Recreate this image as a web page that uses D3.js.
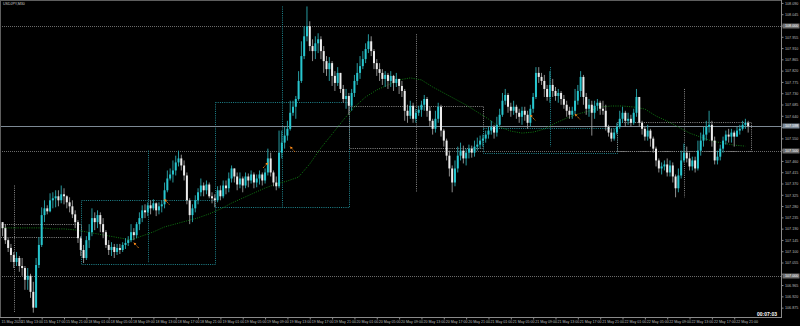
<!DOCTYPE html>
<html><head><meta charset="utf-8">
<script src="https://cdn.jsdelivr.net/npm/d3@7"></script>
<style>
html,body{margin:0;padding:0;background:#000;overflow:hidden}
svg{display:block}
text{font-family:"Liberation Sans",Arial,sans-serif}
</style></head><body>
<svg id="c" width="800" height="326"></svg>
<script>
// ---------------- DATA (USDJPY M30, 15 May 2020 09:00 .. 22 May 2020 23:30) ----------------
const symbolTitle = "USDJPY,M30";
const countdown = "00:07:03";
const firstOpen = 107.196;
const closes = [
107.200,107.216,
107.192,107.144,107.113,107.085,107.057,107.073,107.041,107.033,106.986,107.002,106.938,106.875,107.045,107.125,107.244,107.271,
107.259,
107.303,107.311,107.319,107.303,107.327,107.319,107.295,107.279,107.247,107.216,
107.152,107.105,107.073,107.144,107.176,107.232,107.216,107.244,107.208,107.176,
107.125,107.105,107.117,107.097,107.113,107.105,107.125,107.133,107.144,107.176,
107.164,107.208,107.232,107.263,107.255,107.283,107.271,107.291,107.263,107.279,
107.287,107.343,107.390,
107.406,
107.422,107.454,107.470,107.442,107.402,107.303,107.244,107.271,107.303,107.335,
107.362,107.343,107.366,107.319,107.311,107.303,107.343,107.319,107.362,107.351,
107.390,107.430,107.398,107.366,107.390,107.362,107.398,107.382,107.406,107.374,
107.390,107.406,107.382,107.414,107.470,107.414,107.374,107.359,107.493,107.533,
107.561,107.588,107.652,
107.676,
107.707,107.779,107.878,107.957,107.997,107.918,107.898,107.929,107.945,107.898,
107.858,107.826,107.850,107.799,107.771,107.811,107.747,107.707,107.719,107.680,
107.731,107.779,107.811,107.838,107.866,107.906,107.937,107.898,107.850,107.826,
107.811,107.787,107.803,107.779,107.799,107.771,107.787,107.759,107.739,107.660,
107.640,107.680,107.628,107.652,
107.664,
107.684,107.707,107.660,107.620,107.588,107.628,107.676,107.581,107.541,107.481,
107.430,107.374,107.430,107.481,107.501,107.470,107.493,107.509,107.493,107.517,
107.525,107.541,107.549,107.565,107.581,107.596,107.573,107.604,107.644,107.700,
107.723,107.676,107.660,107.676,107.652,107.636,107.660,107.644,107.612,107.668,
107.715,107.811,107.795,
107.779,
107.747,107.715,107.763,107.739,107.719,107.731,107.707,107.684,107.660,107.644,
107.660,107.700,107.739,107.795,107.715,107.668,107.684,107.652,107.680,107.692,
107.668,107.660,107.596,107.573,107.549,107.573,107.596,107.628,107.652,107.620,
107.628,107.612,107.652,107.715,107.612,107.588,107.557,107.581,107.549,107.509,
107.462,107.430,107.438,
107.446,
107.414,107.442,107.398,107.351,107.402,107.462,107.493,107.470,107.438,107.462,
107.430,107.501,107.541,107.565,107.596,107.604,107.541,107.462,107.477,107.509,
107.541,107.565,107.557,107.573,107.557,107.581,107.588,107.604,107.612,107.598
];
const highs = [
107.216,107.232,
107.216,107.208,107.152,107.129,107.097,107.097,107.081,107.073,107.041,107.033,107.010,106.978,107.073,107.156,107.275,107.303,
107.283,
107.331,107.335,107.343,107.343,107.362,107.351,107.323,107.315,107.303,107.263,
107.224,107.160,107.125,107.160,107.208,107.271,107.255,107.263,107.255,107.232,
107.184,107.144,107.136,107.129,107.129,107.129,107.136,107.152,107.160,107.208,
107.192,107.216,107.255,107.283,107.287,107.295,107.303,107.307,107.295,107.295,
107.303,107.374,107.422,
107.430,
107.462,107.481,107.501,107.485,107.462,107.414,107.311,107.287,107.323,107.351,
107.390,107.374,107.382,107.374,107.335,107.327,107.359,107.362,107.382,107.382,
107.414,107.442,107.430,107.414,107.414,107.398,107.414,107.410,107.422,107.414,
107.406,107.422,107.414,107.430,107.509,107.493,107.422,107.398,107.581,107.581,
107.596,107.620,107.700,
107.700,
107.719,107.818,107.937,107.997,108.076,108.017,107.945,107.957,107.969,107.957,
107.918,107.878,107.874,107.858,107.818,107.834,107.811,107.763,107.747,107.731,
107.747,107.803,107.850,107.878,107.898,107.929,107.965,107.957,107.906,107.866,
107.850,107.826,107.818,107.811,107.818,107.803,107.811,107.787,107.779,107.747,
107.684,107.700,107.692,107.668,
107.680,
107.700,107.723,107.715,107.676,107.628,107.660,107.692,107.684,107.588,107.549,
107.501,107.442,107.462,107.517,107.533,107.521,107.509,107.525,107.521,107.541,
107.553,107.561,107.565,107.581,107.596,107.620,107.604,107.636,107.668,107.731,
107.747,107.731,107.692,107.700,107.684,107.668,107.676,107.676,107.660,107.684,
107.731,107.834,107.834,
107.811,
107.803,107.763,107.818,107.787,107.755,107.747,107.739,107.723,107.700,107.676,
107.676,107.747,107.763,107.818,107.803,107.731,107.707,107.700,107.700,107.707,
107.700,107.700,107.684,107.604,107.588,107.588,107.612,107.660,107.676,107.660,
107.652,107.644,107.668,107.747,107.715,107.620,107.596,107.604,107.588,107.557,
107.517,107.470,107.454,
107.462,
107.470,107.462,107.454,107.406,107.430,107.501,107.529,107.517,107.493,107.477,
107.477,107.541,107.573,107.596,107.620,107.660,107.620,107.557,107.501,107.525,
107.557,107.581,107.588,107.588,107.581,107.596,107.604,107.620,107.628,107.620
];
const lows = [
107.184,107.192,
107.160,107.129,107.097,107.057,107.033,107.041,107.018,107.002,106.946,106.946,106.914,106.855,106.899,107.033,107.117,107.216,
107.247,
107.255,107.271,107.275,107.279,107.291,107.287,107.271,107.255,107.232,107.192,
107.133,107.081,107.053,107.065,107.113,107.160,107.184,107.192,107.176,107.152,
107.113,107.085,107.081,107.073,107.085,107.089,107.097,107.109,107.121,107.136,
107.144,107.152,107.184,107.216,107.232,107.240,107.247,107.263,107.240,107.247,
107.255,107.271,107.335,
107.382,
107.374,107.402,107.438,107.422,107.382,107.287,107.208,107.216,107.255,107.287,
107.319,107.319,107.327,107.311,107.291,107.275,107.295,107.303,107.311,107.327,
107.335,107.374,107.374,107.343,107.351,107.335,107.351,107.355,107.370,107.351,
107.355,107.366,107.362,107.370,107.402,107.398,107.359,107.343,107.351,107.470,
107.509,107.541,107.581,
107.640,
107.628,107.700,107.771,107.866,107.937,107.898,107.858,107.866,107.890,107.866,
107.811,107.799,107.779,107.759,107.739,107.759,107.731,107.692,107.668,107.644,
107.660,107.715,107.763,107.787,107.826,107.850,107.890,107.878,107.826,107.799,
107.779,107.763,107.755,107.747,107.755,107.739,107.755,107.727,107.715,107.620,
107.612,107.628,107.612,107.612,
107.640,
107.636,107.660,107.636,107.596,107.565,107.573,107.612,107.557,107.517,107.462,
107.398,107.335,107.359,107.414,107.462,107.450,107.442,107.470,107.473,107.477,
107.501,107.509,107.517,107.533,107.549,107.565,107.549,107.557,107.596,107.636,
107.684,107.652,107.636,107.644,107.628,107.612,107.604,107.620,107.588,107.596,
107.652,107.707,107.771,
107.763,
107.715,107.700,107.692,107.715,107.700,107.692,107.684,107.668,107.636,107.628,
107.628,107.644,107.684,107.715,107.684,107.644,107.636,107.561,107.628,107.660,
107.644,107.644,107.581,107.557,107.537,107.541,107.565,107.588,107.612,107.596,
107.604,107.596,107.604,107.636,107.596,107.565,107.541,107.541,107.517,107.493,
107.438,107.414,107.406,
107.422,
107.398,107.398,107.374,107.315,107.335,107.390,107.454,107.454,107.422,107.422,
107.414,107.422,107.481,107.517,107.541,107.573,107.517,107.446,107.446,107.462,
107.493,107.525,107.533,107.533,107.517,107.557,107.565,107.581,107.588,107.573
];
// moving average, one reading every 4 bars (bar 0, 4, 8, ...)
const maStep = 4;
const maValues = [
107.193,107.193,107.193,107.193,107.193,107.189,107.189,107.185,107.177,107.169,
107.161,107.153,107.145,107.161,107.177,107.197,107.209,107.221,107.233,107.249,
107.268,107.292,107.312,107.332,107.352,107.368,107.380,107.396,107.448,107.512,
107.567,107.623,107.675,107.715,107.743,107.763,107.783,107.791,107.783,107.755,
107.731,107.707,107.683,107.655,107.627,107.595,107.579,107.571,107.575,107.587,
107.611,107.631,107.647,107.659,107.675,107.679,107.679,107.675,107.667,107.639,
107.619,107.595,107.571,107.555,107.539,107.531,107.523,107.519
];
const timeTickStep = 8;
const timeTickLabels = [
"15 May 2020","15 May 13:00","15 May 17:00","15 May 21:00",
"18 May 01:00","18 May 05:00","18 May 09:00","18 May 13:00","18 May 17:00","18 May 21:00",
"19 May 01:00","19 May 05:00","19 May 09:00","19 May 13:00","19 May 17:00","19 May 21:00",
"20 May 01:00","20 May 05:00","20 May 09:00","20 May 13:00","20 May 17:00","20 May 21:00",
"21 May 01:00","21 May 05:00","21 May 09:00","21 May 13:00","21 May 17:00","21 May 21:00",
"22 May 01:00","22 May 05:00","22 May 09:00","22 May 13:00","22 May 17:00","22 May 21:00"
];
const priceTicks = [106.875,106.920,106.965,107.010,107.055,107.100,107.145,107.190,107.235,107.280,
107.325,107.370,107.415,107.460,107.505,107.550,107.595,107.640,107.685,107.730,
107.775,107.820,107.865,107.910,107.955,108.000,108.045,108.090];
const levels = [108.000, 107.500, 107.000];
const bid = 107.598;
// daily boxes
const dayStart = [-18, 30, 78, 126, 174, 222];
const dayEnd   = [30, 78, 126, 174, 222, 270];
const boxHigh  = [107.209, 107.304, 107.695, 107.679, 107.591, 107.615];
const boxLow   = [107.157, 107.049, 107.276, 107.512, 107.492, 107.500];
const boxKind  = ["gray", "teal", "teal", "gray", "teal", "gray"];
// trade arrows
const arrowBars   = [49, 60, 97, 105, 191, 207];
const arrowPrices = [107.134, 107.307, 107.453, 107.517, 107.643, 107.647];
const arrowDir    = [-1, -1, 1, -1, -1, -1];

// ---------------- DRAWING ----------------
const PR = 781, PB = 317;
const svg = d3.select("#c");
svg.append("rect").attr("width", 800).attr("height", 326).attr("fill", "#000");
const x = d3.scaleLinear().domain([0, 270]).range([-3, -3 + 270 * 2.7925]);
const y = d3.scaleLinear().domain([107.0, 108.0]).range([276.3, 25.5]);
const kindColor = {gray: "#8a8a8a", teal: "#1f8790"};

svg.append("defs").append("clipPath").attr("id", "plot")
  .append("rect").attr("x", 1).attr("y", 1).attr("width", PR - 1).attr("height", PB - 1);
const g = svg.append("g").attr("clip-path", "url(#plot)");

// round-number levels (dotted, full width)
g.selectAll("line.lvl").data(levels).join("line").attr("class", "lvl")
  .attr("x1", 0).attr("x2", PR).attr("y1", d => Math.round(y(d)) + 0.5).attr("y2", d => Math.round(y(d)) + 0.5)
  .attr("stroke", "#6a6a6a").attr("stroke-dasharray", "1,1");

// daily boxes
const days = d3.range(dayStart.length);
g.selectAll("rect.box").data(days).join("rect").attr("class", "box")
  .attr("x", i => Math.round(x(dayStart[i])) + 0.5)
  .attr("width", i => Math.round(x(dayEnd[i])) - Math.round(x(dayStart[i])))
  .attr("y", i => Math.round(y(boxHigh[i])) + 0.5)
  .attr("height", i => Math.round(y(boxLow[i])) - Math.round(y(boxHigh[i])))
  .attr("fill", "none").attr("stroke", i => kindColor[boxKind[i]]).attr("stroke-dasharray", "1,1.2");

// daily high-low range marker at mid-day
g.selectAll("line.dr").data(days).join("line").attr("class", "dr")
  .each(function(i) {
    const s = Math.max(0, dayStart[i]), e = Math.min(closes.length, dayEnd[i]);
    const hi = d3.max(highs.slice(s, e)), lo = d3.min(lows.slice(s, e));
    const xm = Math.round(x(dayStart[i] + 24)) + 0.5;
    d3.select(this).attr("x1", xm).attr("x2", xm).attr("y1", y(hi)).attr("y2", y(lo));
  })
  .attr("stroke", i => kindColor[boxKind[i]]).attr("stroke-dasharray", "1,1.2");

// bid line
g.append("line").attr("x1", 0).attr("x2", PR)
  .attr("y1", Math.round(y(bid)) + 0.5).attr("y2", Math.round(y(bid)) + 0.5)
  .attr("stroke", "#7d8994").attr("stroke-width", 1);

// moving average
const maLine = d3.line().x((d, i) => x(i * maStep)).y(d => y(d));
g.append("path").datum(maValues).attr("d", maLine).attr("fill", "none")
  .attr("stroke", "#0f7a12").attr("stroke-width", 1).attr("stroke-dasharray", "1,1.3");

// candles
const bars = closes.map((c, i) => ({i, o: i === 0 ? firstOpen : closes[i - 1], c, h: highs[i], l: lows[i]}));
const cg = g.append("g");
cg.selectAll("line.wick").data(bars).join("line").attr("class", "wick")
  .attr("x1", d => x(d.i)).attr("x2", d => x(d.i))
  .attr("y1", d => y(Math.max(d.h, d.o, d.c))).attr("y2", d => y(Math.min(d.l, d.o, d.c)))
  .attr("stroke", d => d.c >= d.o ? "#2aaab0" : "#9c9c9c").attr("stroke-width", 0.9);
cg.selectAll("rect.body").data(bars).join("rect").attr("class", "body")
  .attr("x", d => x(d.i) - 1).attr("width", 2)
  .attr("y", d => y(Math.max(d.o, d.c)))
  .attr("height", d => Math.max(0.8, Math.abs(y(d.o) - y(d.c))))
  .attr("fill", d => d.c >= d.o ? "#27c6cf" : "#ececec");

// trade arrows
const ag = g.append("g");
arrowBars.forEach((b, k) => {
  const hx = x(b), hy = y(arrowPrices[k]), dir = arrowDir[k];
  const tx = hx - dir * 5, ty = hy + 5.5;
  ag.append("line").attr("x1", hx).attr("y1", hy).attr("x2", tx).attr("y2", ty)
    .attr("stroke", "#e07a10").attr("stroke-width", 1).attr("stroke-dasharray", "1.2,0.8");
  const ang = Math.atan2(hy - ty, hx - tx);
  const p = (a, r) => [hx - r * Math.cos(ang + a), hy - r * Math.sin(ang + a)];
  ag.append("path").attr("d", "M" + [hx, hy] + "L" + p(0.6, 2.6) + "L" + p(-0.6, 2.6) + "Z").attr("fill", "#ff8c1a");
});

// frame
svg.append("line").attr("x1", 0).attr("x2", PR).attr("y1", 0.5).attr("y2", 0.5).attr("stroke", "#5e5e5e");
svg.append("line").attr("x1", 0.5).attr("x2", 0.5).attr("y1", 0).attr("y2", PB).attr("stroke", "#5e5e5e");
svg.append("line").attr("x1", PR + 0.5).attr("x2", PR + 0.5).attr("y1", 0).attr("y2", PB + 1).attr("stroke", "#8a8a8a");
svg.append("line").attr("x1", 0).attr("x2", PR + 1).attr("y1", PB + 0.5).attr("y2", PB + 0.5).attr("stroke", "#8a8a8a");

// line tags (price labels for the level lines and bid)
const tags = levels.map(v => ({v, bg: "#6c6c6c"})).concat([{v: bid, bg: "#7d8a97"}]);
const tagY = tags.map(t => Math.round(y(t.v)));

// price axis (labels hidden where a line tag sits on them)
const yAxis = d3.axisRight(y).tickValues(priceTicks).tickFormat(d3.format(".3f")).tickSize(2).tickPadding(2);
const gy = svg.append("g").attr("transform", `translate(${PR + 0.5},0)`).call(yAxis);
gy.select(".domain").remove();
gy.selectAll(".tick line").attr("stroke", "#8a8a8a");
gy.selectAll(".tick text").attr("fill", "#bdbdbd").attr("font-size", 3.7).attr("x", 3.5).attr("dy", "0.36em")
  .attr("display", d => tagY.some(ty => Math.abs(ty - y(d)) < 5.5) ? "none" : null);

// time axis
const tickBars = timeTickLabels.map((_, k) => k * timeTickStep);
const xAxis = d3.axisBottom(x).tickValues(tickBars).tickFormat((d, k) => timeTickLabels[k]).tickSize(2).tickPadding(0);
const gx = svg.append("g").attr("transform", `translate(0,${PB + 0.5})`).call(xAxis);
gx.select(".domain").remove();
gx.selectAll(".tick line").attr("stroke", "#8a8a8a");
gx.selectAll(".tick text").attr("fill", "#bdbdbd").attr("font-size", 3.6)
  .attr("text-anchor", "start").attr("y", 5).attr("dy", 0).attr("x", (d, k) => k === 0 ? 4 : 1.5);

// tags drawn on top
const tg = svg.append("g");
tags.forEach((t, k) => {
  const yy = tagY[k];
  tg.append("rect").attr("x", PR + 1.5).attr("y", yy - 2.5).attr("width", 17).attr("height", 5).attr("fill", t.bg);
  tg.append("text").attr("x", PR + 4).attr("y", yy + 1.4).attr("fill", "#ffffff").attr("font-size", 3.7).text(d3.format(".3f")(t.v));
});

// title + countdown
svg.append("text").attr("x", 3).attr("y", 4.6).attr("fill", "#cfcfcf").attr("font-size", 3.6).text(symbolTitle);
svg.append("text").attr("x", PR - 4).attr("y", 315.5).attr("text-anchor", "end").attr("fill", "#ffffff")
  .attr("font-size", 5).attr("font-weight", "bold").text(countdown);
</script>
</body></html>
